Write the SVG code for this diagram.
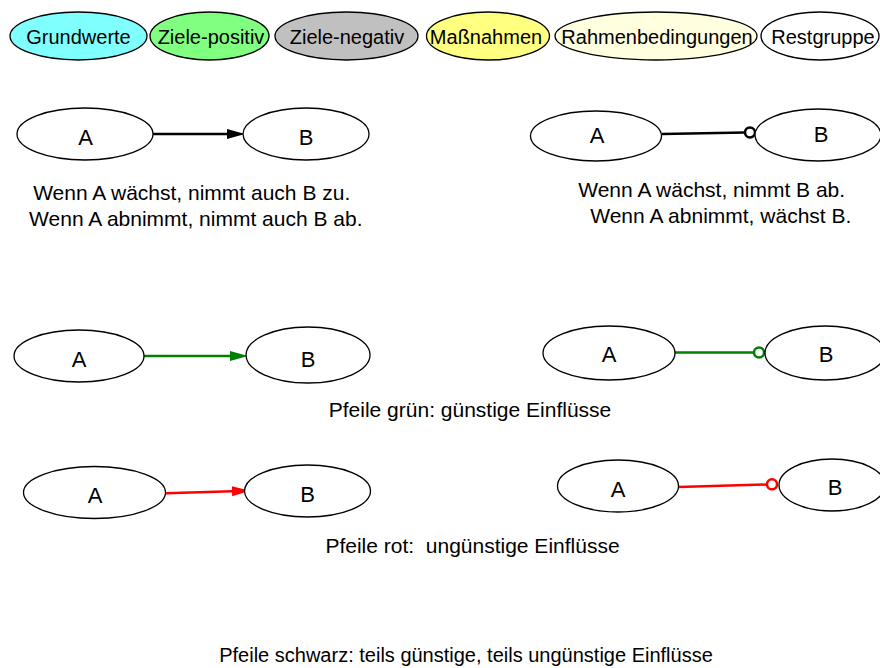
<svg xmlns="http://www.w3.org/2000/svg" width="880" height="668" viewBox="0 0 880 668">
<style>
text{font-family:"Liberation Sans",Arial,sans-serif;fill:#000;}
.lg{font-size:20px;text-anchor:middle;}
.nd{font-size:22px;text-anchor:middle;}
.tx{font-size:21px;text-anchor:middle;white-space:pre;}
ellipse{stroke:#000;stroke-width:1.3;}
.e{fill:none;stroke-width:2.5;}
</style>
<defs>
<marker id="arrK" viewBox="0 -6 20 12" markerWidth="20" markerHeight="12" refX="0" refY="0" orient="auto" markerUnits="userSpaceOnUse"><path d="M0,-5 L18,0 L0,5 z" fill="#000"/></marker>
<marker id="arrG" viewBox="0 -6 20 12" markerWidth="20" markerHeight="12" refX="0" refY="0" orient="auto" markerUnits="userSpaceOnUse"><path d="M0,-5 L18,0 L0,5 z" fill="#008000"/></marker>
<marker id="arrR" viewBox="0 -6 20 12" markerWidth="20" markerHeight="12" refX="0" refY="0" orient="auto" markerUnits="userSpaceOnUse"><path d="M0,-5 L18,0 L0,5 z" fill="#ff0000"/></marker>
<marker id="dotK" viewBox="-2 -8 16 16" markerWidth="16" markerHeight="16" refX="0" refY="0" orient="auto" markerUnits="userSpaceOnUse"><circle cx="5" cy="0" r="5" fill="#fff" stroke="#000" stroke-width="2.5"/></marker>
<marker id="dotG" viewBox="-2 -8 16 16" markerWidth="16" markerHeight="16" refX="0" refY="0" orient="auto" markerUnits="userSpaceOnUse"><circle cx="5" cy="0" r="5" fill="#fff" stroke="#008000" stroke-width="2.5"/></marker>
<marker id="dotR" viewBox="-2 -8 16 16" markerWidth="16" markerHeight="16" refX="0" refY="0" orient="auto" markerUnits="userSpaceOnUse"><circle cx="5" cy="0" r="5" fill="#fff" stroke="#ff0000" stroke-width="2.5"/></marker>
</defs>
<rect width="880" height="668" fill="#fff"/>

<g id="legend">
<g id="grundwerte"><ellipse cx="78.5" cy="36" rx="68.5" ry="24" fill="#80ffff"/><text class="lg" x="78.5" y="44">Grundwerte</text></g>
<g id="ziele-positiv"><ellipse cx="209.5" cy="36" rx="59.5" ry="24" fill="#80ff80"/><text class="lg" x="211" y="44">Ziele-positiv</text></g>
<g id="ziele-negativ"><ellipse cx="346.5" cy="36" rx="71.5" ry="24" fill="#c0c0c0"/><text class="lg" x="347" y="44">Ziele-negativ</text></g>
<g id="massnahmen"><ellipse cx="488" cy="36" rx="61.5" ry="24" fill="#ffff80"/><text class="lg" x="486" y="44">Maßnahmen</text></g>
<g id="rahmenbedingungen"><ellipse cx="656" cy="36" rx="101" ry="24" fill="#ffffe0"/><text class="lg" x="657" y="44">Rahmenbedingungen</text></g>
<g id="restgruppe"><ellipse cx="820" cy="36" rx="59" ry="24" fill="#fff"/><text class="lg" x="823" y="44">Restgruppe</text></g>
</g>

<g id="connectors">
<path class="e" d="M153,134 L227,134" stroke="#000" marker-end="url(#arrK)"/>
<path class="e" d="M662,134 L745,132.5" stroke="#000" marker-end="url(#dotK)"/>
<path class="e" d="M144,356 L230,356" stroke="#008000" marker-end="url(#arrG)"/>
<path class="e" d="M675,352.5 L754,352.5" stroke="#008000" marker-end="url(#dotG)"/>
<path class="e" d="M166,493.3 L232,491.2" stroke="#ff0000" marker-end="url(#arrR)"/>
<path class="e" d="M678,487 L767,484.5" stroke="#ff0000" marker-end="url(#dotR)"/>
</g>

<g id="a1"><ellipse cx="85" cy="134" rx="68" ry="26" fill="#fff"/><text class="nd" x="85.5" y="145">A</text></g>
<g id="b1"><ellipse cx="306" cy="134" rx="63" ry="26" fill="#fff"/><text class="nd" x="306" y="145">B</text></g>
<g id="a2"><ellipse cx="596" cy="136" rx="65.5" ry="25" fill="#fff"/><text class="nd" x="597" y="143">A</text></g>
<g id="b2"><ellipse cx="818" cy="135" rx="63" ry="26" fill="#fff"/><text class="nd" x="821" y="142">B</text></g>
<g id="a3"><ellipse cx="79" cy="356" rx="65" ry="26" fill="#fff"/><text class="nd" x="79" y="367">A</text></g>
<g id="b3"><ellipse cx="308" cy="355" rx="62" ry="28" fill="#fff"/><text class="nd" x="308" y="367">B</text></g>
<g id="a4"><ellipse cx="609" cy="353" rx="66" ry="27" fill="#fff"/><text class="nd" x="609" y="362">A</text></g>
<g id="b4"><ellipse cx="825" cy="353" rx="60" ry="27" fill="#fff"/><text class="nd" x="826" y="362">B</text></g>
<g id="a5"><ellipse cx="94.5" cy="492.5" rx="71" ry="26" fill="#fff"/><text class="nd" x="95" y="503">A</text></g>
<g id="b5"><ellipse cx="307.5" cy="491" rx="63" ry="26" fill="#fff"/><text class="nd" x="307.5" y="502">B</text></g>
<g id="a6"><ellipse cx="618" cy="486" rx="60.5" ry="26" fill="#fff"/><text class="nd" x="618" y="497">A</text></g>
<g id="b6"><ellipse cx="832" cy="485" rx="53" ry="26" fill="#fff"/><text class="nd" x="835" y="495">B</text></g>

<g id="notes">
<text class="tx" x="191.7" y="200">Wenn A wächst, nimmt auch B zu.</text>
<text class="tx" x="195.8" y="226">Wenn A abnimmt, nimmt auch B ab.</text>
<text class="tx" x="711.7" y="197">Wenn A wächst, nimmt B ab.</text>
<text class="tx" x="720.8" y="223">Wenn A abnimmt, wächst B.</text>
<text class="tx" x="470" y="417">Pfeile grün: günstige Einflüsse</text>
<text class="tx" x="472.5" y="553">Pfeile rot:  ungünstige Einflüsse</text>
<text class="tx" x="466" y="662" style="font-size:20px">Pfeile schwarz: teils günstige, teils ungünstige Einflüsse</text>
</g>
</svg>
